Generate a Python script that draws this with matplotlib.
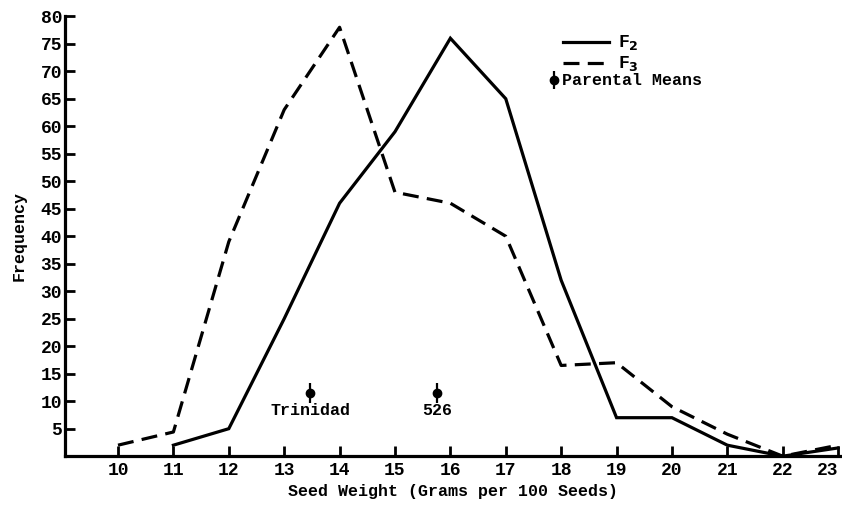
import matplotlib.pyplot as plt

# seed weight classes (grams per 100 seeds)
weights = [10, 11, 12, 13, 14, 15, 16, 17, 18, 19, 20, 21, 22, 23]
f2_freq = [None, 2, 5, 25, 46, 59, 76, 65, 32, 7, 7, 2, 0, 1.5]
f3_freq = [2, 4.4, 39, 63, 78, 48, 46, 40, 16.5, 17, 9, 4, 0, 2]

parents = ["Trinidad", "526"]
parent_means = [13.47, 15.76]
parent_y = [11.5, 11.5]

plt.rcParams["font.family"] = ["Liberation Mono", "DejaVu Sans"]
plt.rcParams["font.weight"] = "bold"

fig = plt.figure(figsize=(8.42, 5.08), dpi=100)
ax = fig.add_axes([0.077, 0.102, 0.923, 0.866])

dash = (5, 2.6)
f2_x = [w for w, f in zip(weights, f2_freq) if f is not None]
f2_y = [f for f in f2_freq if f is not None]
ax.plot(f2_x, f2_y, color="black", lw=2.3, solid_joinstyle="miter")
ax.plot(weights, f3_freq, color="black", lw=2.3, dashes=dash)

ax.errorbar(parent_means, parent_y, yerr=1.8, fmt="o", color="black",
            ms=6, elinewidth=1.6, capsize=0)
for name, x in zip(parents, parent_means):
    ax.text(x, 8.3, name, ha="center", va="center", fontsize=12,
            fontweight="bold")

ax.set_xlim(9.04, 23.07)
ax.set_ylim(0, 80)
ax.set_xticks(weights)
ax.set_yticks(range(5, 81, 5))
ax.tick_params(direction="in", width=2, length=7, labelsize=13, pad=4)
ax.tick_params(axis="y", pad=2)
ax.get_xticklabels()[-1].set_horizontalalignment("right")
for side in ("top", "right"):
    ax.spines[side].set_visible(False)
for side in ("left", "bottom"):
    ax.spines[side].set_linewidth(2.3)

ax.set_xlabel("Seed Weight (Grams per 100 Seeds)", fontsize=12,
              fontweight="bold", labelpad=4)
ax.set_ylabel("Frequency", fontsize=12, fontweight="bold", labelpad=10)

# key, drawn in axes coordinates
tr = ax.transAxes
ax.plot([0.641, 0.700], [0.941, 0.941], color="black", lw=2.3,
        transform=tr, clip_on=False)
ax.plot([0.641, 0.700], [0.893, 0.893], color="black", lw=2.3,
        dashes=dash, transform=tr, clip_on=False)
ax.text(0.712, 0.941, "F$_2$", fontsize=13, va="center", transform=tr)
ax.text(0.712, 0.893, "F$_3$", fontsize=13, va="center", transform=tr)
ax.errorbar([0.630], [0.855], yerr=0.02, fmt="o", color="black", ms=6,
            elinewidth=1.6, capsize=0, transform=tr, clip_on=False)
ax.text(0.640, 0.855, "Parental Means", fontsize=12, va="center",
        transform=tr)

fig.savefig("out.png", dpi=100)
